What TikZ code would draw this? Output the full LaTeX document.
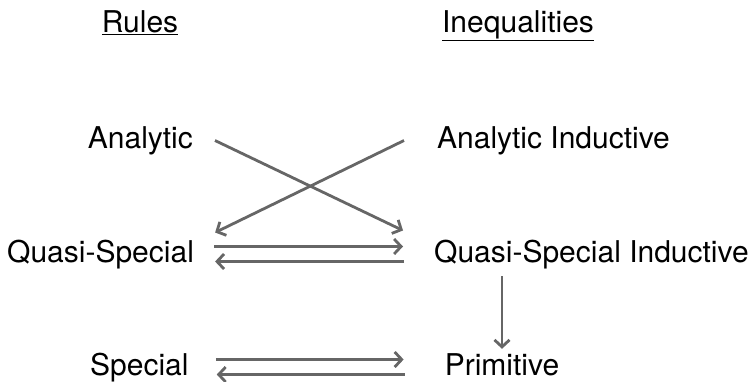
\documentclass[tikz,border=0pt]{standalone}
\usepackage{fontspec}
\setmainfont{TeX Gyre Heros}
\usepackage{tikz}
\usetikzlibrary{arrows.meta,calc}
\usepackage{xcolor}
\definecolor{arrowgray}{HTML}{666666}
\tikzset{
  termtext/.style={
    font=\fontsize{30}{36}\selectfont,
    inner sep=0pt,
    text height=21.5pt,
    text depth=6.5pt
  },
  headtext/.style={
    font=\fontsize{30}{36}\selectfont,
    inner sep=0pt
  },
  arrow/.style={
    -{Straight Barb[length=7pt,width=15pt]},
    line width=2.8pt,
    draw=arrowgray
  }
}

\begin{document}
\begin{tikzpicture}[x=1pt,y=-1pt]
\useasboundingbox (0,0) rectangle (754,381);
% column heads
\node[headtext, anchor=base] (rules) at (140,32) {\underline{Rules}};
\node[headtext, anchor=base] (ineq) at (518,32) {\underline{Inequalities}};

% rules (left) and inequalities (right)
\node[termtext, anchor=base east] (ana) at (193,148) {Analytic};
\node[termtext, anchor=base west] (anaind) at (437,148) {Analytic Inductive};
\node[termtext, anchor=base west] (qs) at (7,262) {Quasi-Special};
\node[termtext, anchor=base west] (qsind) at (434,262) {Quasi-Special Inductive};
\node[termtext, anchor=base west] (spec) at (90,375) {Special};
\node[termtext, anchor=base] (prim) at (502,375) {Primitive};

% crossing arrows
\draw[arrow] ($(ana.east)+(22,0)$) -- ($(qsind.west)+(-31,-24)$);
\draw[arrow] ($(anaind.west)+(-33,0)$) -- ($(qs.east)+(21,-22)$);

% both ways
\draw[arrow] ($(qs.east)+(20,-8)$) -- ($(qsind.west)+(-31,-8)$);
\draw[arrow] ($(qsind.west)+(-30,7)$) -- ($(qs.east)+(21,7)$);
\draw[arrow] ($(spec.east)+(27,-8)$) -- ($(prim.west)+(-41,-8)$);
\draw[arrow] ($(prim.west)+(-40,7)$) -- ($(spec.east)+(28,7)$);

\draw[arrow, shorten <=7.5pt, shorten >=4.5pt] (qsind.south -| prim.north) -- (prim.north);
\end{tikzpicture}
\end{document}
